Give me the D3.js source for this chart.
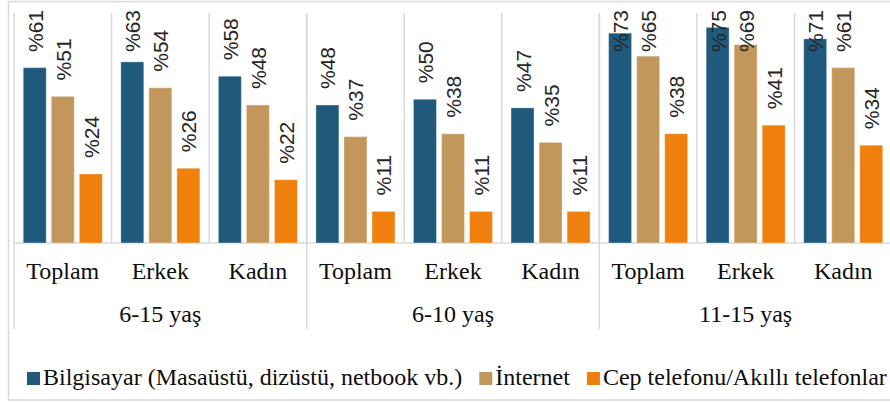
<!DOCTYPE html>
<html>
<head>
<meta charset="utf-8">
<script src="https://cdn.jsdelivr.net/npm/d3@7"></script>
<style>
  body { margin: 0; background: #fff; }
  svg { display: block; }
  .grid { stroke: #d9d9d9; stroke-width: 1.5; }
  .vlabel { font-family: "Liberation Sans", Arial, sans-serif; font-size: 21px; fill: #262626; }
  .cat, .grp, .leg { font-family: "Liberation Serif", "Times New Roman", serif; font-size: 24px; fill: #0d0d0d; }
</style>
</head>
<body>
<div id="vis"></div>
<script>
// ---- data ----
const groups = ["6-15 yaş", "6-10 yaş", "11-15 yaş"];
const subCats = ["Toplam", "Erkek", "Kadın"];
const series = ["Bilgisayar (Masaüstü, dizüstü, netbook vb.)", "İnternet", "Cep telefonu/Akıllı telefonlar"];
const computerVals = [61, 63, 58, 48, 50, 47, 73, 75, 71];
const internetVals = [51, 54, 48, 37, 38, 35, 65, 69, 61];
const phoneVals = [24, 26, 22, 11, 11, 11, 38, 41, 34];
const colors = ["#1f5a7d", "#c3975b", "#ef800e"];

const width = 890, height = 403;
const plot = {left: 14, right: 892, top: 13, bottom: 243};

const svg = d3.select("#vis").append("svg")
    .attr("width", width)
    .attr("height", height);

// outer chart border
svg.append("rect")
    .attr("x", 8.5).attr("y", 1.5)
    .attr("width", 900).attr("height", 398.5)
    .attr("fill", "none")
    .attr("stroke", "#d9d9d9")
    .attr("stroke-width", 1.5);

// build category list (group x sub-category)
const cats = [];
groups.forEach((g, gi) => subCats.forEach((s, si) => cats.push({key: gi + "-" + si, group: g, sub: s, i: gi * 3 + si})));
const allVals = [computerVals, internetVals, phoneVals];

let x = d3.scaleBand()
    .domain(cats.map(d => d.key))
    .range([plot.left, plot.right])
    .padding(0);

let xs = d3.scaleBand()
    .domain(d3.range(series.length))
    .range([0, x.bandwidth()])
    .paddingInner(0.18)
    .paddingOuter(0.33);

let y = d3.scaleLinear()
    .domain([0, 80])
    .range([plot.bottom, plot.top]);

// vertical gridlines at each category boundary (above baseline)
svg.append("g").selectAll("line")
    .data(cats.slice(1))
    .enter().append("line")
    .attr("class", "grid")
    .attr("x1", d => x(d.key)).attr("x2", d => x(d.key))
    .attr("y1", plot.top).attr("y2", plot.bottom);

// group dividers (full height down through labels)
const divX = groups.map((g, gi) => x(gi + "-0")).concat([plot.right]);
svg.append("g").selectAll("line")
    .data(divX)
    .enter().append("line")
    .attr("class", "grid")
    .attr("x1", d => d).attr("x2", d => d)
    .attr("y1", plot.top).attr("y2", 329);

// baseline
svg.append("line")
    .attr("class", "grid")
    .attr("x1", plot.left).attr("x2", plot.right)
    .attr("y1", plot.bottom).attr("y2", plot.bottom);

// bars
const barData = [];
cats.forEach(c => allVals.forEach((vals, si) => barData.push({cat: c.key, s: si, v: vals[c.i]})));

svg.append("g").selectAll("rect")
    .data(barData)
    .enter().append("rect")
    .attr("x", d => x(d.cat) + xs(d.s))
    .attr("y", d => y(d.v))
    .attr("width", xs.bandwidth())
    .attr("height", d => y(0) - y(d.v))
    .attr("fill", d => colors[d.s])
    .attr("stroke", "#ffffff")
    .attr("stroke-opacity", 0.35)
    .attr("stroke-width", 1);

// value labels, rotated, kept inside the plot top
svg.append("g").selectAll("text")
    .data(barData)
    .enter().append("text")
    .attr("class", "vlabel")
    .text(d => "%" + d.v)
    .each(function (d) {
        const len = this.getComputedTextLength();
        const cx = x(d.cat) + xs(d.s) + xs.bandwidth() / 2 + 8;
        const start = Math.max(y(d.v) - 16, 10 + len);
        d3.select(this).attr("transform", "translate(" + cx + "," + start + ") rotate(-90)");
    });

// category labels
svg.append("g").selectAll("text")
    .data(cats)
    .enter().append("text")
    .attr("class", "cat")
    .attr("x", d => x(d.key) + x.bandwidth() / 2)
    .attr("y", 279)
    .attr("text-anchor", "middle")
    .text(d => d.sub);

// group labels
svg.append("g").selectAll("text")
    .data(groups)
    .enter().append("text")
    .attr("class", "grp")
    .attr("x", (d, i) => (divX[i] + divX[i + 1]) / 2)
    .attr("y", 322)
    .attr("text-anchor", "middle")
    .text(d => d);

// legend
let lx = 27;
const legend = svg.append("g");
series.forEach((s, i) => {
    legend.append("rect")
        .attr("x", lx).attr("y", 372)
        .attr("width", 13).attr("height", 13)
        .attr("fill", colors[i]);
    const t = legend.append("text")
        .attr("class", "leg")
        .attr("x", lx + 16)
        .attr("y", 385)
        .text(s);
    lx = lx + 16 + t.node().getComputedTextLength() + 17;
});
</script>
</body>
</html>
